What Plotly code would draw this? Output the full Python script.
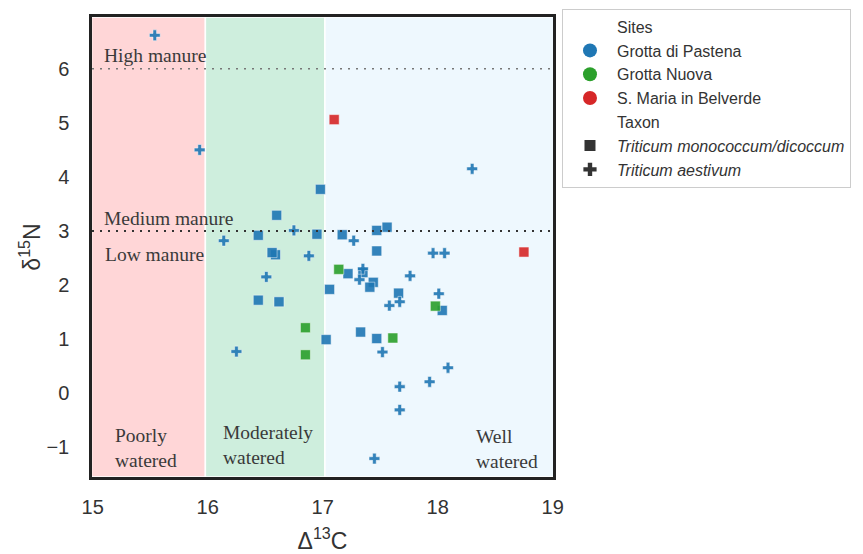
import plotly.graph_objects as go

# Δ13C / δ15N measurements by site and taxon
pastena_mono_d13c = [16.98, 16.60, 16.44, 16.95, 16.59, 16.56, 16.44, 16.62, 17.17, 17.22, 17.06,
                     17.03, 17.47, 17.56, 17.47, 17.35, 17.44, 17.41, 17.66, 18.04, 17.33, 17.47]
pastena_mono_d15n = [3.77, 3.29, 2.92, 2.94, 2.56, 2.60, 1.72, 1.69, 2.93, 2.21, 1.92,
                     0.99, 3.01, 3.07, 2.63, 2.23, 2.05, 1.96, 1.85, 1.53, 1.13, 1.01]
pastena_aest_d13c = [15.54, 15.93, 18.30, 16.14, 16.75, 16.51, 16.88, 16.25, 17.27, 17.96, 18.06, 17.35,
                     17.32, 17.76, 18.01, 17.58, 17.67, 17.52, 18.09, 17.93, 17.67, 17.67, 17.45]
pastena_aest_d15n = [6.62, 4.50, 4.15, 2.82, 3.01, 2.15, 2.54, 0.77, 2.82, 2.59, 2.59, 2.30,
                     2.10, 2.17, 1.84, 1.62, 1.69, 0.76, 0.47, 0.21, 0.12, -0.31, -1.21]
nuova_mono_d13c = [16.85, 16.85, 17.14, 17.98, 17.61]
nuova_mono_d15n = [1.21, 0.71, 2.29, 1.61, 1.02]
belverde_mono_d13c = [17.10, 18.75]
belverde_mono_d15n = [5.06, 2.61]

site_names = ["Grotta di Pastena", "Grotta Nuova", "S. Maria in Belverde"]
site_colors = ["#1f77b4", "#2ca02c", "#d62728"]
taxon_names = ["<i>Triticum monococcum/dicoccum</i>", "<i>Triticum aestivum</i>"]

# watering zones (Δ13C bounds) and manure thresholds (δ15N)
zone_bounds = [14.99, 15.98, 17.02, 19.01]
zone_colors = ["rgb(255,214,215)", "rgb(206,238,221)", "rgb(238,248,254)"]
manure_levels = [6, 3]

x_range = [14.994, 19.003]
y_range = [-1.551, 6.958]

fig = go.Figure()

def add_points(xs, ys, color, symbol, size):
    fig.add_trace(go.Scatter(
        x=xs, y=ys, mode="markers", showlegend=False, hoverinfo="skip",
        marker=dict(color=color, symbol=symbol, size=size, opacity=0.9,
                    line=dict(color="white", width=0.5))))

add_points(pastena_mono_d13c, pastena_mono_d15n, site_colors[0], "square", 10)
add_points(pastena_aest_d13c, pastena_aest_d15n, site_colors[0], "cross", 9)
add_points(nuova_mono_d13c, nuova_mono_d15n, site_colors[1], "square", 10)
add_points(belverde_mono_d13c, belverde_mono_d15n, site_colors[2], "square", 10)

# legend entries
def legend_entry(name, color, symbol, size):
    fig.add_trace(go.Scatter(x=[None], y=[None], mode="markers", name=name,
                             marker=dict(color=color, symbol=symbol, size=size)))

legend_entry("Sites", "rgba(0,0,0,0)", "circle", 1)
for n, c in zip(site_names, site_colors):
    legend_entry(n, c, "circle", 14)
legend_entry("Taxon", "rgba(0,0,0,0)", "circle", 1)
legend_entry(taxon_names[0], "#333333", "square", 11)
legend_entry(taxon_names[1], "#333333", "cross", 11)

# watering zones
for i, col in enumerate(zone_colors):
    fig.add_shape(type="rect", xref="x", yref="paper",
                  x0=zone_bounds[i], x1=zone_bounds[i + 1], y0=0, y1=1,
                  fillcolor=col, line=dict(color="white", width=1.5), layer="below")

# manure thresholds
fig.add_shape(type="line", xref="paper", yref="y", x0=0, x1=1, y0=manure_levels[0], y1=manure_levels[0],
              line=dict(color="#777777", width=1.6, dash="2px,6px"))
fig.add_shape(type="line", xref="paper", yref="y", x0=0, x1=1, y0=manure_levels[1], y1=manure_levels[1],
              line=dict(color="#333333", width=2, dash="2px,6px"))

serif = dict(family="Liberation Serif, Times New Roman, serif", size=19.5, color="#3a3a3a")
labels = [
    (15.08, 6.25, "High manure"),
    (15.08, 3.24, "Medium manure"),
    (15.09, 2.56, "Low manure"),
    (15.18, -1.02, "Poorly<br>watered"),
    (16.116, -0.96, "Moderately<br>watered"),
    (18.318, -1.035, "Well<br>watered"),
]
for x, y, t in labels:
    fig.add_annotation(x=x, y=y, text=t, showarrow=False, xanchor="left", yanchor="middle",
                       align="left", font=serif)

sans = "Liberation Sans, Arial, sans-serif"
fig.update_layout(
    width=863, height=554,
    margin=dict(l=92, r=310, t=9, b=77),
    paper_bgcolor="white", plot_bgcolor="white",
    font=dict(family=sans, color="#333333"),
    legend=dict(x=1.0195, y=1.018, xanchor="left", yanchor="top",
                bgcolor="white", bordercolor="#cccccc", borderwidth=1,
                font=dict(size=16, color="#333333"), itemwidth=44,
                itemclick=False, itemdoubleclick=False),
)
fig.update_xaxes(range=x_range, tickvals=[15, 16, 17, 18, 19], showgrid=False, zeroline=False,
                 showline=True, linecolor="#222222", linewidth=2.5, mirror=True, automargin=False,
                 ticks="", ticklabelstandoff=10, tickfont=dict(size=20, color="#333333"),
                 title=dict(text="Δ<sup>13</sup>C", font=dict(size=23, color="#333333"), standoff=20))
fig.update_yaxes(range=y_range, tickvals=[-1, 0, 1, 2, 3, 4, 5, 6], showgrid=False, zeroline=False,
                 showline=True, linecolor="#222222", linewidth=2.5, mirror=True, automargin=False,
                 ticks="", ticklabelstandoff=16, tickfont=dict(size=20, color="#333333"),
                 title=dict(text="δ<sup>15</sup>N", font=dict(size=23, color="#333333"), standoff=0))

fig.write_html("out.html")
